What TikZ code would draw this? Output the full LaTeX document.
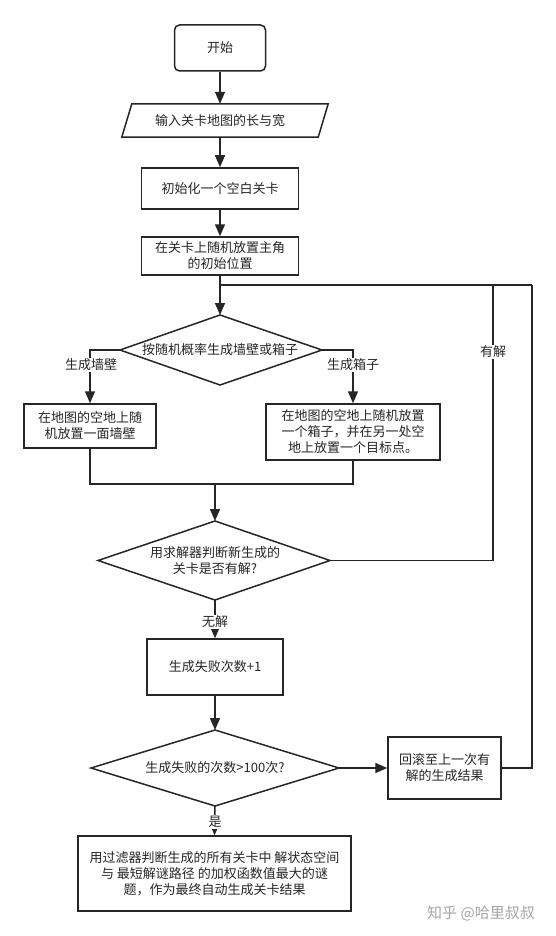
\documentclass[tikz,border=0pt]{standalone}
\usepackage{fontspec}
\setmainfont{Noto Sans CJK SC}
\usetikzlibrary{arrows.meta,calc}
\begin{document}
\begin{tikzpicture}[x=1pt,y=-1pt,
  every node/.style={font=\fontsize{13}{16}\selectfont, text=black!85},
  box/.style={draw=black!85, line width=1.5pt, align=center, inner sep=0pt},
  ln/.style={draw=black!85, line width=1.5pt},
  arr/.style={ln, -{Triangle[length=12pt,width=10pt]}},
  lbl/.style={fill=white, inner sep=1pt}]
\useasboundingbox[fill=white] (0,0) rectangle (556,936);

% nodes
\node[box, rounded corners=5pt, minimum width=91pt, minimum height=46pt] (start) at (220,48) {开始};
\node[inner sep=0pt, minimum width=196pt, minimum height=33pt] (input) at (220,120.5) {输入关卡地图的长与宽};
\draw[ln] (input.south west) -- ([xshift=10pt]input.north west) -- ([xshift=10pt]input.north east) -- (input.south east) -- cycle;
\node[box, minimum width=157pt, minimum height=41pt] (init) at (220,188.5) {初始化一个空白关卡};
\node[box, minimum width=157pt, minimum height=38pt] (place) at (220,256) {在关卡上随机放置主角\\的初始位置};

% diamond 1
\node (d1) at (220,350) {按随机概率生成墙壁或箱子};
\coordinate (d1t) at (220,315);
\coordinate (d1b) at (220,385);
\coordinate (d1l) at (120,350);
\coordinate (d1r) at (322,350);
\draw[ln] (d1l) -- (d1t) -- (d1r) -- (d1b) -- cycle;

\node[box, minimum width=132pt, minimum height=44pt] (wall) at (90,426) {在地图的空地上随\\机放置一面墙壁};
\node[box, minimum width=174pt, minimum height=56pt] (boxb) at (353,432) {在地图的空地上随机放置\\一个箱子，并在另一处空\\地上放置一个目标点。};

% diamond 2
\node[align=center] (d2) at (215,560.5) {用求解器判断新生成的\\关卡是否有解?};
\coordinate (d2t) at (215,521);
\coordinate (d2b) at (215,600);
\coordinate (d2l) at (98,560.5);
\coordinate (d2r) at (330,560.5);
\draw[ln] (d2l) -- (d2t) -- (d2r) -- (d2b) -- cycle;

\node[box, minimum width=136pt, minimum height=56pt] (fail) at (215,667) {生成失败次数+1};

% diamond 3
\node (d3) at (215,768) {生成失败的次数>100次?};
\coordinate (d3t) at (215,730);
\coordinate (d3b) at (215,806);
\coordinate (d3l) at (91,768);
\coordinate (d3r) at (339,768);
\draw[ln] (d3l) -- (d3t) -- (d3r) -- (d3b) -- cycle;

\node[box, minimum width=113pt, minimum height=62pt] (rb) at (444.5,768) {回滚至上一次有\\解的生成结果};
\node[box, minimum width=273pt, minimum height=75pt] (final) at (214.5,873.5) {用过滤器判断生成的所有关卡中 解状态空间\\与 最短解谜路径 的加权函数值最大的谜\\题，作为最终自动生成关卡结果};

% junction coordinates
\coordinate (j) at (220,285);
\coordinate (jm) at (493,285);
\coordinate (jr) at (532,285);
\coordinate (m) at (215,484);

% connectors
\draw[arr] (start) -- (input);
\draw[arr] (input) -- (init);
\draw[arr] (init) -- (place);
\draw[arr] (place) -- (d1t);
\draw[ln] (j) -- (jr);
\draw[arr] (d1l) -| (wall.north);
\draw[arr] (d1r) -| (boxb.north);
\node[lbl] (lw) at (91,365) {生成墙壁};
\node[lbl] (lb) at (353,365) {生成箱子};
\draw[ln] (wall.south) |- (m) -| (boxb.south);
\draw[arr] (m) -- (d2t);
\draw[ln] (d2r) -| (jm);
\node[lbl] (lyes) at (493,352) {有解};
\draw[arr] (d2b) -- (fail.north);
\node[lbl] (lno) at (215,622) {无解};
\draw[arr] (fail.south) -- (d3t);
\draw[arr] (d3r) -- (rb.west);
\draw[ln] (rb.east) -| (jr);
\draw[arr] (d3b) -- (final.north);
\node[lbl] (lshi) at (215,822) {是};

% watermark
\node[font=\fontsize{15}{18}\selectfont, text=black!35] (wm) at (481,913) {知乎 @哈里叔叔};
\end{tikzpicture}
\end{document}
